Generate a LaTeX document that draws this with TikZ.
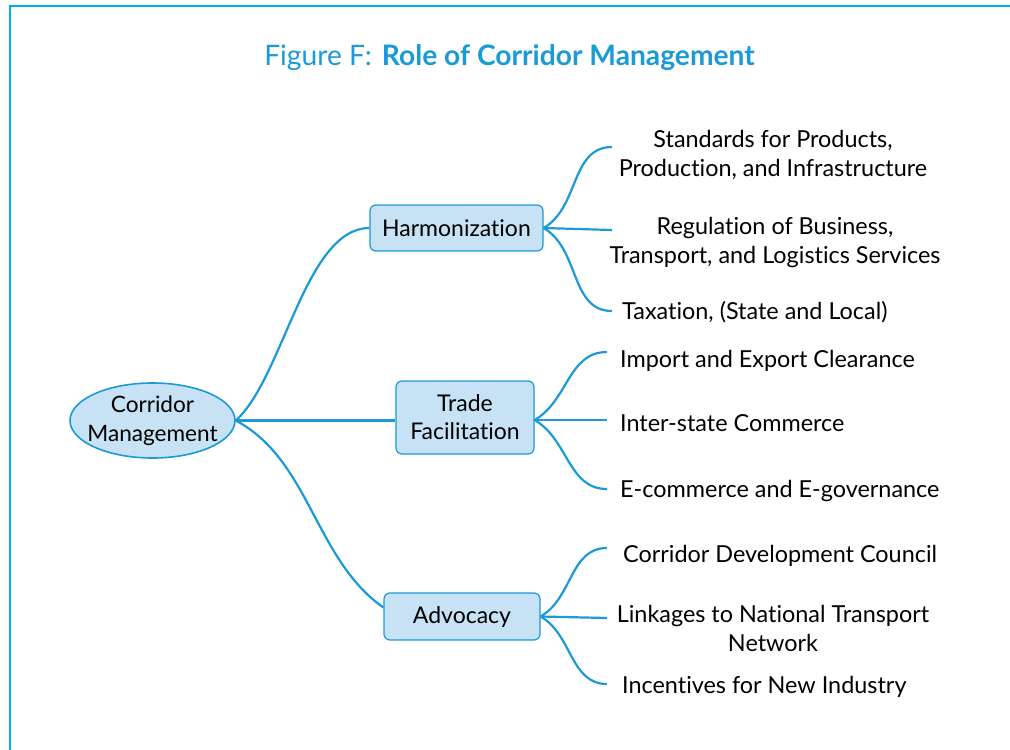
\documentclass[tikz,border=0pt]{standalone}
\usepackage{fontspec}
\setmainfont{Lato}[Ligatures={NoCommon,NoContextual}]
\definecolor{cmblue}{HTML}{1B9AD6}
\definecolor{cmframe}{HTML}{00AEEF}
\definecolor{cmfill}{HTML}{C6E2F4}
\tikzset{
  rootnode/.style={ellipse, draw=cmblue, line width=1.6pt, fill=cmfill,
    minimum width=165pt, minimum height=75pt, inner xsep=-8pt, inner ysep=-4pt,
    align=center, font=\fontsize{22.6}{29}\selectfont},
  topic/.style={draw=cmblue, line width=1.2pt, fill=cmfill, rounded corners=6pt,
    inner sep=0pt, align=center, font=\fontsize{23}{28}\selectfont},
  leaf/.style={inner sep=0pt, align=center, font=\fontsize{23.4}{29}\selectfont},
  branch/.style={draw=cmblue, line width=2.2pt},
}
\usetikzlibrary{shapes.geometric}
\begin{document}
\begin{tikzpicture}[x=1pt, y=-1pt]
    \useasboundingbox (0,0) rectangle (1010,750);
    \draw [cmframe, line width=2pt] (1010,6) -- (10,6) -- (10,750);

    \node (title) at (509.5,58) {\fontsize{28.2}{32}\selectfont\color{cmblue}%
      Figure F:\hspace{10pt}\textbf{Role of Corridor Management}};

    % main idea and its three topics
    \node [rootnode] (root) at (152.5,420.5) {Corridor\\Management};
    \node [topic, minimum width=173pt, minimum height=46pt] (harm) at (456.5,228)
      {Harmonization};
    \node [topic, minimum width=138pt, minimum height=73pt] (trade) at (465,417.5)
      {Trade\\Facilitation};
    \node [topic, minimum width=156pt, minimum height=47pt] (adv) at (462,616.5)
      {Advocacy};

    % ends of the leaf branches
    \coordinate (h1) at (612,147);
    \coordinate (h2) at (612,230);
    \coordinate (h3) at (612,311);
    \coordinate (t1) at (607,352);
    \coordinate (t2) at (607,420);
    \coordinate (t3) at (607,489);
    \coordinate (a1) at (607,548);
    \coordinate (a2) at (607,618);
    \coordinate (a3) at (607,684);

    \node [leaf] (std) at (773,155) {Standards for Products,\\Production, and Infrastructure};
    \node [leaf] (reg) at (775,243) {Regulation of Business,\\Transport, and Logistics Services};
    \node [leaf, anchor=west] (tax) at (622,312) {Taxation, (State and Local)};
    \node [leaf, anchor=west] (imp) at (620,361) {Import and Export Clearance};
    \node [leaf, anchor=west] (inter) at (620,423) {Inter-state Commerce};
    \node [leaf, anchor=west] (ecom) at (620,491) {E-commerce and E-governance};
    \node [leaf, anchor=west] (cdc) at (623,556) {Corridor Development Council};
    \node [leaf] (link) at (773,628) {Linkages to National Transport\\Network};
    \node [leaf, anchor=west] (inc) at (622,687) {Incentives for New Industry};

    \draw [branch] (root.east) to [out=42, in=180, looseness=0.7] (harm.west);
    \draw [branch] (root.east) -- (trade.west |- root.east);
    \draw [branch] (root.east) to [out=-28, in=145, looseness=0.9]
      ([yshift=9pt]adv.west);

    \draw [branch] (harm.east) to [out=30, in=180] (h1);
    \draw [branch] (harm.east) -- (h2);
    \draw [branch] (harm.east) to [out=-30, in=180] (h3);
    \draw [branch] (trade.east |- t2) to [out=30, in=180] (t1);
    \draw [branch] (trade.east |- t2) -- (t2);
    \draw [branch] (trade.east |- t2) to [out=-30, in=180] (t3);
    \draw [branch] (adv.east) to [out=30, in=180] (a1);
    \draw [branch] (adv.east) -- (a2);
    \draw [branch] (adv.east) to [out=-30, in=180] (a3);
  \end{tikzpicture}
\end{document}
